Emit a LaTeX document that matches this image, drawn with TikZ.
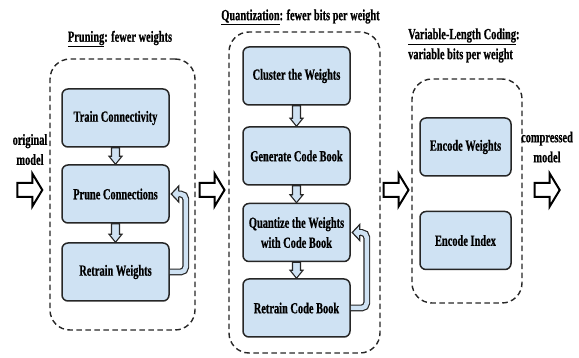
\documentclass[tikz,border=0pt]{standalone}
\usepackage{fontspec}
\newfontfamily\figfont[FakeStretch=0.67,BoldFeatures={FakeBold=0.6}]{Liberation Serif}
\usetikzlibrary{calc}
\definecolor{boxblue}{HTML}{CFE2F3}
\definecolor{edge}{HTML}{262626}

% hollow block arrow pointing down from the bottom of #1 to the top of #2
\newcommand\stepdown[2]{%
  \draw[smallarr] ($(#1.south)+(-4,0)$) -- ($(#2.north)+(-4,-8)$)
    -- ($(#2.north)+(-6.5,-8)$) -- (#2.north) -- ($(#2.north)+(6.5,-8)$)
    -- ($(#2.north)+(4,-8)$) -- ($(#1.south)+(4,0)$) -- cycle;}

% large white block arrow centred on #1, pointing right
\newcommand\flowarrow[1]{%
  \draw[bigarr] (#1) ++(-12.5,-7) -- ++(15,0) -- ++(0,-9.5) -- ++(10,16.5)
    -- ++(-10,16.5) -- ++(0,-9.5) -- ++(-15,0) -- cycle;}

% hollow feedback arrow from the right side of #1 back to the right side of #2
\newcommand\feedback[2]{%
  \draw[loopline] (#1.east) -| ($(#2.east)+(16,0)$) -- ($(#2.east)+(8,0)$);
  \fill[boxblue] ($(#2.east)+(9,-8)$) -- ($(#2.east)+(1.5,0)$) -- ($(#2.east)+(9,8)$) -- cycle;
  \draw[loophead] ($(#2.east)+(9,-2.6)$) -- ($(#2.east)+(9,-8)$) -- ($(#2.east)+(1.5,0)$)
    -- ($(#2.east)+(9,8)$) -- ($(#2.east)+(9,2.6)$);}

\begin{document}
\begin{tikzpicture}[x=1pt,y=-1pt,
  font=\figfont\bfseries\fontsize{15.5}{20}\selectfont,
  stage/.style={draw=edge, line width=1.5pt, fill=boxblue, rounded corners=6pt,
    minimum height=58pt, inner sep=2pt, align=center},
  group/.style={draw=edge, line width=1.4pt, dash pattern=on 5.5pt off 3.5pt,
    rounded corners=20pt},
  smallarr/.style={draw=edge, fill=boxblue, line width=1.1pt, line join=miter},
  bigarr/.style={draw=black, fill=white, line width=2pt, line join=miter},
  loopline/.style={draw=edge, line width=1.2pt, double=boxblue, double distance=4.5pt,
    rounded corners=5pt},
  loophead/.style={draw=edge, line width=1.2pt, line join=miter},
  lbl/.style={inner sep=0pt, align=center}
]
\useasboundingbox (0,0) rectangle (579,358);

% stage groups
\node[group, minimum width=145pt, minimum height=271pt] (pg) at (122.5,194.5) {};
\node[group, minimum width=151pt, minimum height=321pt] (qg) at (304.5,192.5) {};
\node[group, minimum width=110pt, minimum height=224pt] (vg) at (467,191) {};

% titles
\node[lbl] (ptitle) at (120,39) {\underline{Pruning}: fewer weights};
\node[lbl] (qtitle) at (300.5,17) {\underline{Quantization}: fewer bits per weight};
\node[lbl, align=left, anchor=west] (vtitle) at (408,45.5)
  {\underline{Variable-Length Coding}:\\variable bits per weight};

% pruning
\node[stage, minimum width=107pt] (tc) at (115.5,118) {Train Connectivity};
\node[stage, minimum width=107pt] (pc) at (115.5,194) {Prune Connections};
\node[stage, minimum width=107pt] (rw) at (115.5,272) {Retrain Weights};

% quantization
\node[stage, minimum width=107pt] (cw) at (296.5,76) {Cluster the Weights};
\node[stage, minimum width=107pt] (gc) at (296.5,156) {Generate Code Book};
\node[stage, minimum width=107pt] (qw) at (296.5,232.5) {Quantize the Weights\\with Code Book};
\node[stage, minimum width=107pt] (rc) at (296.5,308) {Retrain Code Book};

% variable-length coding
\node[stage, minimum width=91pt] (ew) at (465.5,147) {Encode Weights};
\node[stage, minimum width=91pt] (ei) at (465.5,240.5) {Encode Index};

% input / output labels
\node[lbl] (orig) at (30,149.5) {original\\model};
\node[lbl] (comp) at (547,147) {compressed\\model};

% steps inside the groups
\stepdown{tc}{pc}
\stepdown{pc}{rw}
\stepdown{cw}{gc}
\stepdown{gc}{qw}
\stepdown{qw}{rc}

% retraining loops
\feedback{rw}{pc}
\feedback{rc}{qw}

% main flow between the groups
\coordinate (flow) at (0,190);
\coordinate (a0) at ($(pg.west)+(-19.5,0)$);
\coordinate (a1) at ($(pg.east)!0.5!(qg.west)$);
\coordinate (a2) at ($(qg.east)!0.5!(vg.west)$);
\coordinate (a3) at ($(vg.east)+(24.5,0)$);
\flowarrow{a0 |- flow}
\flowarrow{a1 |- flow}
\flowarrow{a2 |- flow}
\flowarrow{a3 |- flow}
\end{tikzpicture}
\end{document}
